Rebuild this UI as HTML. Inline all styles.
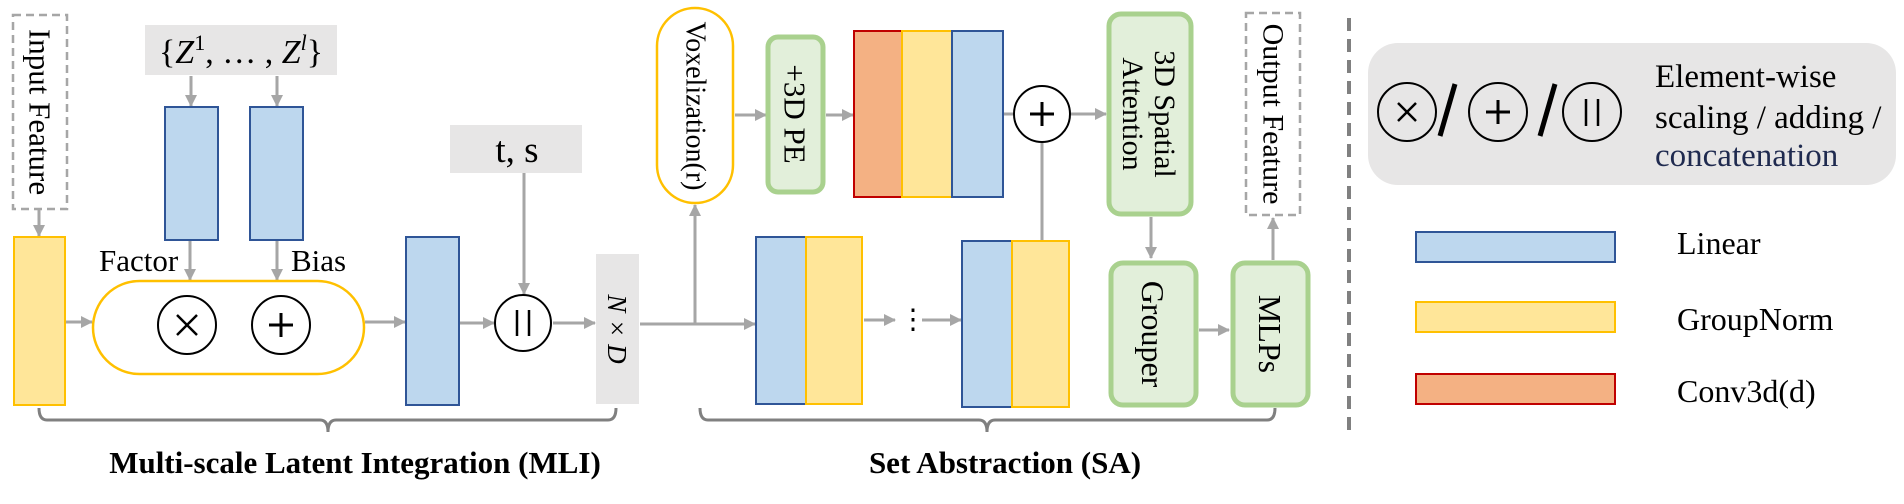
<!DOCTYPE html>
<html><head><meta charset="utf-8"><style>
html,body{margin:0;padding:0;background:#fff;}
svg{display:block;font-family:"Liberation Serif",serif;}
</style></head><body>
<svg width="1904" height="504" viewBox="0 0 1904 504" xmlns="http://www.w3.org/2000/svg">
<defs>
<marker id="a" markerWidth="12" markerHeight="12" refX="11" refY="6" orient="auto" markerUnits="userSpaceOnUse" viewBox="0 0 12 12">
<path d="M0,0 L12,6 L0,12 z" fill="#A6A6A6"/></marker>
</defs>
<g stroke="#A6A6A6" stroke-width="3" fill="none">
<line x1="39" y1="210" x2="39" y2="236" marker-end="url(#a)"/>
<line x1="191" y1="76" x2="191" y2="106" marker-end="url(#a)"/>
<line x1="277" y1="76" x2="277" y2="106" marker-end="url(#a)"/>
<line x1="190" y1="241" x2="190" y2="280" marker-end="url(#a)"/>
<line x1="277" y1="241" x2="277" y2="280" marker-end="url(#a)"/>
<line x1="66" y1="322" x2="92" y2="322" marker-end="url(#a)"/>
<line x1="365" y1="322" x2="405" y2="322" marker-end="url(#a)"/>
<line x1="460" y1="323" x2="494" y2="323" marker-end="url(#a)"/>
<line x1="524" y1="173" x2="524" y2="294" marker-end="url(#a)"/>
<line x1="553" y1="323" x2="595" y2="323" marker-end="url(#a)"/>
<line x1="640" y1="324" x2="755" y2="324" marker-end="url(#a)"/>
<line x1="695" y1="324" x2="695" y2="205" marker-end="url(#a)"/>
<line x1="735" y1="115" x2="766" y2="115" marker-end="url(#a)"/>
<line x1="826" y1="115" x2="853" y2="115" marker-end="url(#a)"/>
<line x1="1003" y1="114" x2="1013" y2="114"/>
<line x1="1071" y1="114" x2="1106" y2="114" marker-end="url(#a)"/>
<line x1="1042" y1="143" x2="1042" y2="241"/>
<line x1="864" y1="320" x2="895" y2="320" marker-end="url(#a)"/>
<line x1="922" y1="320" x2="961" y2="320" marker-end="url(#a)"/>
<line x1="1151" y1="217" x2="1151" y2="258" marker-end="url(#a)"/>
<line x1="1199" y1="330" x2="1229" y2="330" marker-end="url(#a)"/>
<line x1="1273" y1="260" x2="1273" y2="218" marker-end="url(#a)"/>
</g>
<rect x="13" y="15" width="54" height="194" fill="#fff" stroke="#A6A6A6" stroke-width="2.5" stroke-dasharray="8,5"/>
<text transform="translate(40,112) rotate(90)" text-anchor="middle" dominant-baseline="central" font-size="31">Input Feature</text>
<rect x="14" y="237" width="51" height="168" fill="#FFE699" stroke="#FFC000" stroke-width="2"/>
<rect x="145" y="25" width="192" height="50" fill="#E7E6E6"/>
<text x="241" y="63" text-anchor="middle" font-size="34">{<tspan font-style="italic">Z</tspan><tspan font-size="22" dy="-13">1</tspan><tspan dy="13">, … , </tspan><tspan font-style="italic">Z</tspan><tspan font-size="22" font-style="italic" dy="-13">l</tspan><tspan dy="13">}</tspan></text>
<rect x="165" y="107" width="53" height="133" fill="#BDD7EE" stroke="#2F5597" stroke-width="2"/>
<rect x="250" y="107" width="53" height="133" fill="#BDD7EE" stroke="#2F5597" stroke-width="2"/>
<text x="99" y="271" font-size="31">Factor</text>
<text x="291" y="271" font-size="31">Bias</text>
<rect x="93" y="281" width="271" height="93" rx="46.5" fill="#fff" stroke="#FFC000" stroke-width="2.5"/>
<g fill="#fff" stroke="#000" stroke-width="2">
<circle cx="187" cy="325" r="29"/><circle cx="281" cy="325" r="29"/><circle cx="523" cy="323" r="28"/>
<circle cx="1042" cy="114" r="28"/>
</g>
<g stroke="#000" stroke-width="2.5">
<line x1="177" y1="315" x2="197" y2="335"/><line x1="197" y1="315" x2="177" y2="335"/>
<line x1="281" y1="313" x2="281" y2="337" stroke-width="3"/><line x1="269" y1="325" x2="293" y2="325" stroke-width="3"/>
<line x1="517" y1="310" x2="517" y2="336"/><line x1="529" y1="310" x2="529" y2="336"/>
<line x1="1042" y1="102" x2="1042" y2="126" stroke-width="3"/><line x1="1030" y1="114" x2="1054" y2="114" stroke-width="3"/>
</g>
<rect x="406" y="237" width="53" height="168" fill="#BDD7EE" stroke="#2F5597" stroke-width="2"/>
<rect x="450" y="125" width="132" height="48" fill="#E7E6E6"/>
<text x="517" y="162" text-anchor="middle" font-size="37">t, s</text>
<rect x="596" y="254" width="43" height="150" fill="#E7E6E6"/>
<text transform="translate(617,329) rotate(90)" text-anchor="middle" dominant-baseline="central" font-size="27" font-style="italic">N × D</text>
<g stroke="#808080" stroke-width="3" fill="none">
<path d="M39,408 Q39,420 47,420 L320,420 Q328,420 328,432 Q328,420 336,420 L608,420 Q616,420 616,408"/>
<path d="M700,408 Q700,420 708,420 L979,420 Q987,420 987,432 Q987,420 995,420 L1267,420 Q1275,420 1275,408"/>
</g>
<text x="355" y="473" text-anchor="middle" font-size="31" font-weight="bold">Multi-scale Latent Integration (MLI)</text>
<text x="1005" y="473" text-anchor="middle" font-size="31" font-weight="bold">Set Abstraction (SA)</text>
<rect x="657" y="8" width="76" height="195" rx="38" fill="#fff" stroke="#FFC000" stroke-width="2.5"/>
<text transform="translate(695,106) rotate(90)" text-anchor="middle" dominant-baseline="central" font-size="28">Voxelization(r)</text>
<rect x="768" y="37" width="55" height="155" rx="10" fill="#E2EFDA" stroke="#A9D18E" stroke-width="5"/>
<text transform="translate(795,114) rotate(90)" text-anchor="middle" dominant-baseline="central" font-size="31">+3D PE</text>
<rect x="854" y="31" width="48" height="166" fill="#F4B183" stroke="#C00000" stroke-width="2"/>
<rect x="902" y="31" width="50" height="166" fill="#FFE699" stroke="#FFC000" stroke-width="2"/>
<rect x="952" y="31" width="51" height="166" fill="#BDD7EE" stroke="#2F5597" stroke-width="2"/>
<rect x="1109" y="14" width="82" height="200" rx="12" fill="#E2EFDA" stroke="#A9D18E" stroke-width="5"/>
<text transform="translate(1150,114) rotate(90)" text-anchor="middle" font-size="30"><tspan x="0" dy="-5">3D Spatial</tspan><tspan x="0" dy="32">Attention</tspan></text>
<rect x="756" y="237" width="50" height="167" fill="#BDD7EE" stroke="#2F5597" stroke-width="2"/>
<rect x="806" y="237" width="56" height="167" fill="#FFE699" stroke="#FFC000" stroke-width="2"/>
<text x="913" y="320" text-anchor="middle" dominant-baseline="central" font-size="28">⋮</text>
<rect x="962" y="241" width="50" height="166" fill="#BDD7EE" stroke="#2F5597" stroke-width="2"/>
<rect x="1012" y="241" width="57" height="166" fill="#FFE699" stroke="#FFC000" stroke-width="2"/>
<rect x="1111" y="263" width="85" height="142" rx="12" fill="#E2EFDA" stroke="#A9D18E" stroke-width="5"/>
<text transform="translate(1153,334) rotate(90)" text-anchor="middle" dominant-baseline="central" font-size="32">Grouper</text>
<rect x="1233" y="263" width="75" height="142" rx="12" fill="#E2EFDA" stroke="#A9D18E" stroke-width="5"/>
<text transform="translate(1270,334) rotate(90)" text-anchor="middle" dominant-baseline="central" font-size="32">MLPs</text>
<rect x="1246" y="13" width="54" height="202" fill="#fff" stroke="#A6A6A6" stroke-width="2.5" stroke-dasharray="8,5"/>
<text transform="translate(1273,114) rotate(90)" text-anchor="middle" dominant-baseline="central" font-size="30">Output Feature</text>
<line x1="1349" y1="18" x2="1349" y2="433" stroke="#808080" stroke-width="4" stroke-dasharray="13,8"/>
<rect x="1368" y="43" width="528" height="142" rx="30" fill="#E7E6E6"/>
<g fill="none" stroke="#000" stroke-width="2">
<circle cx="1407" cy="112" r="29"/><circle cx="1498" cy="112" r="29"/><circle cx="1592" cy="112" r="29"/>
</g>
<g stroke="#000" stroke-width="2.5">
<line x1="1398" y1="103" x2="1416" y2="121"/><line x1="1416" y1="103" x2="1398" y2="121"/>
<line x1="1498" y1="100" x2="1498" y2="124" stroke-width="3"/><line x1="1486" y1="112" x2="1510" y2="112" stroke-width="3"/>
<line x1="1586" y1="99" x2="1586" y2="126"/><line x1="1598" y1="99" x2="1598" y2="126"/>
<line x1="1455" y1="84" x2="1440" y2="136" stroke-width="5"/>
<line x1="1555" y1="84" x2="1540" y2="136" stroke-width="5"/>
</g>
<text x="1655" y="87" font-size="33">Element-wise</text>
<text x="1655" y="128" font-size="33">scaling / adding /</text>
<text x="1655" y="166" font-size="33" fill="#1F2A4F">concatenation</text>
<rect x="1416" y="232" width="199" height="30" fill="#BDD7EE" stroke="#2F5597" stroke-width="2"/>
<rect x="1416" y="302" width="199" height="30" fill="#FFE699" stroke="#FFC000" stroke-width="2"/>
<rect x="1416" y="374" width="199" height="30" fill="#F4B183" stroke="#C00000" stroke-width="2"/>
<text x="1677" y="243" font-size="32" dominant-baseline="central">Linear</text>
<text x="1677" y="319" font-size="32" dominant-baseline="central">GroupNorm</text>
<text x="1677" y="391" font-size="32" dominant-baseline="central">Conv3d(d)</text>
</svg>
</body></html>
